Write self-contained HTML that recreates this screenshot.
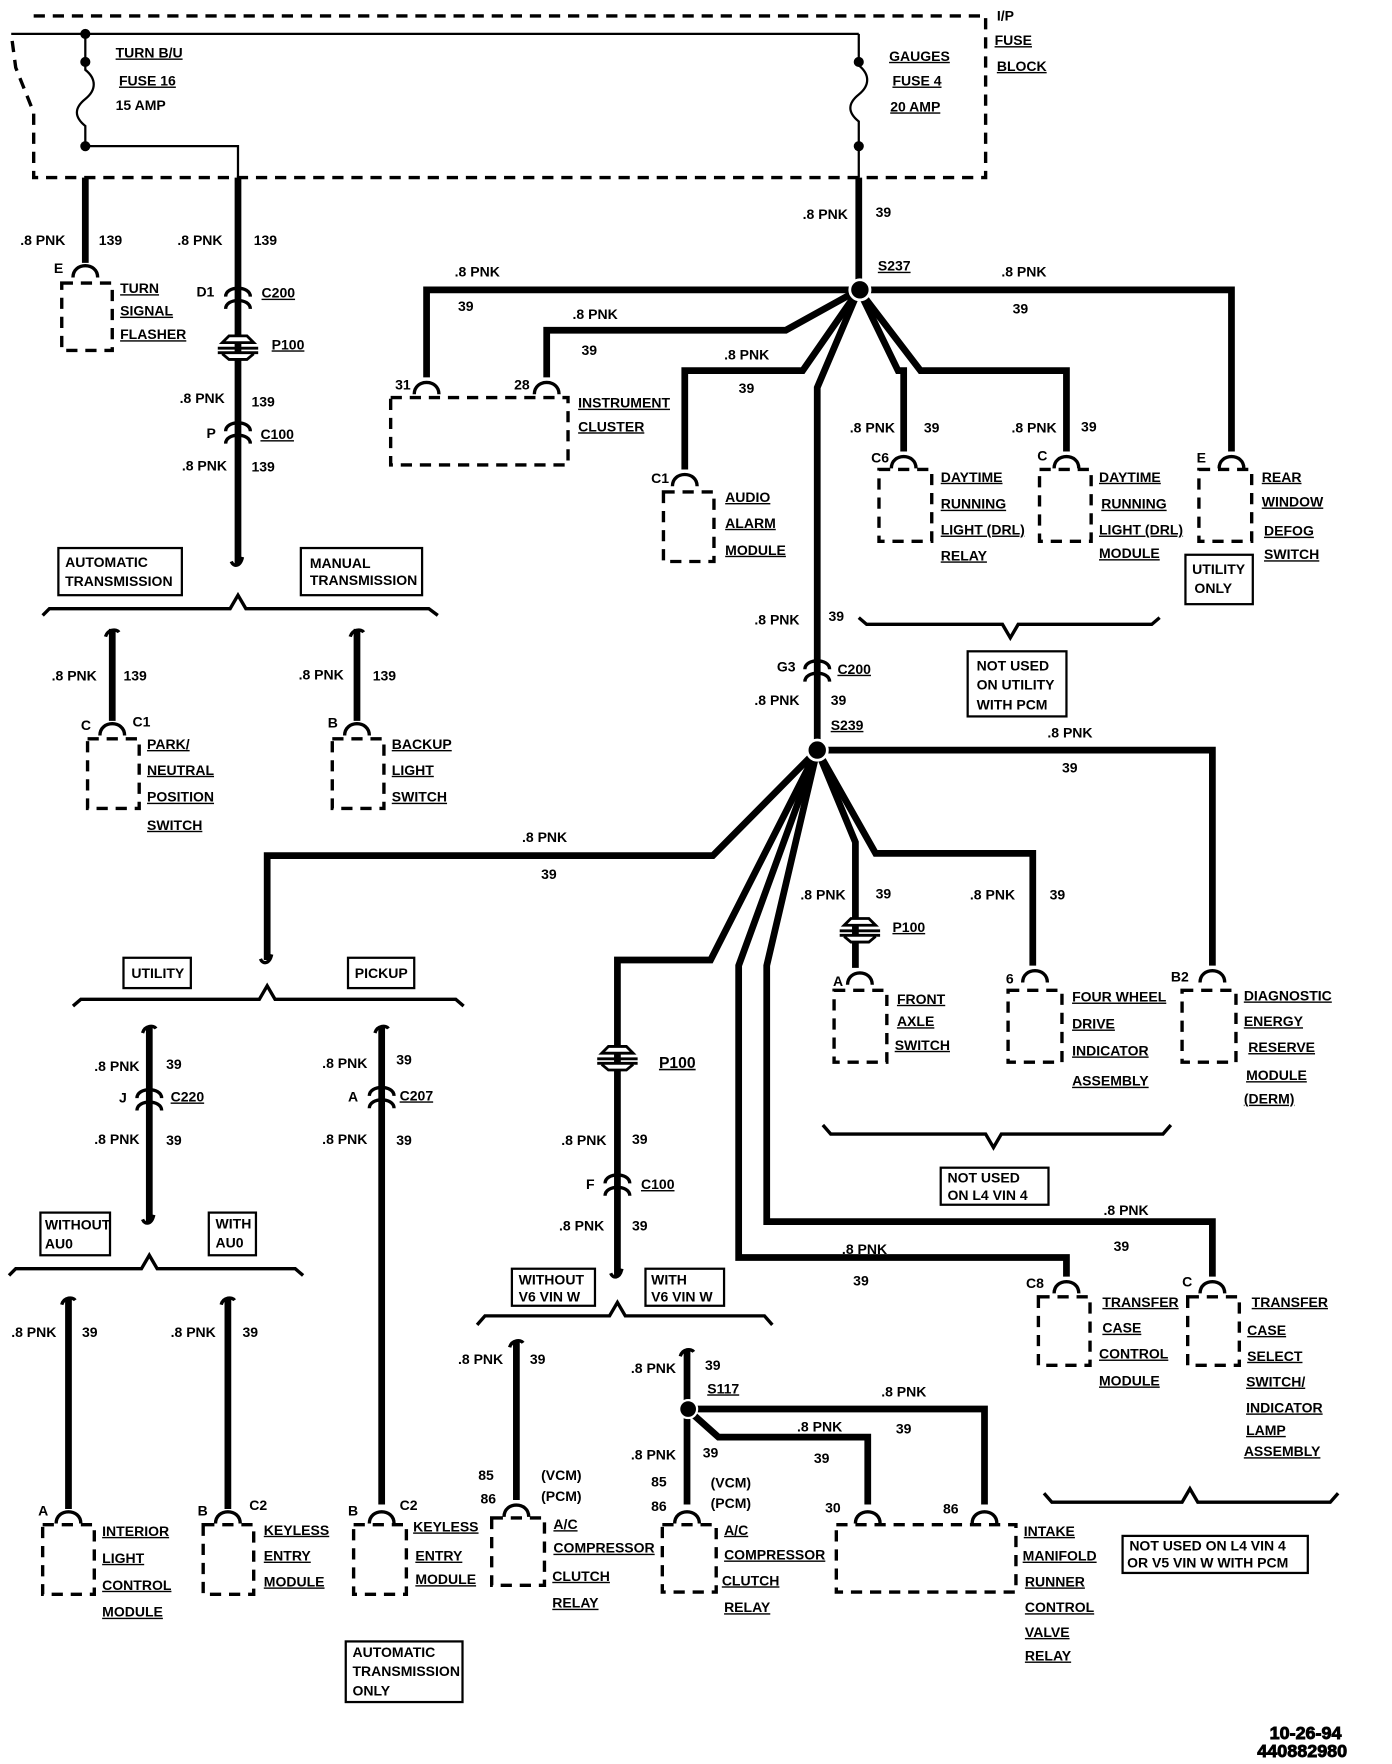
<!DOCTYPE html>
<html><head><meta charset="utf-8"><style>
html,body{margin:0;padding:0;background:#fff;}
svg{display:block}
text{font-family:"Liberation Sans",Arial,sans-serif;font-weight:bold;font-size:12.5px;fill:#000;}
.u{text-decoration:underline;}
.w{fill:none;stroke:#000;stroke-width:6;stroke-linejoin:miter;}
.t{fill:none;stroke:#000;stroke-width:2;}
.b{fill:none;stroke:#000;stroke-width:3;stroke-dasharray:10,7;}
.br{fill:none;stroke:#000;stroke-width:3;}
.bx{fill:#fff;stroke:#000;stroke-width:2;}
</style></head><body>
<svg width="1392" height="1764" viewBox="0 0 1240 1571" xmlns="http://www.w3.org/2000/svg">
<defs>
<path id="fc" d="M-11,9 C-11,-5 11,-5 11,9" fill="none" stroke="#000" stroke-width="3"/>
<g id="ic"><path d="M-11,-2 C-11,-12 11,-12 11,-2" fill="none" stroke="#000" stroke-width="3"/><path d="M-11,9 C-11,-1 11,-1 11,9" fill="none" stroke="#000" stroke-width="3"/></g>
<g id="pp"><path d="M-14,-5 L-8,-11 L8,-11 L14,-5 Z M-18,0 L18,0 M-18,4 L18,4 M-14,5 L-8,10 L8,10 L14,5" fill="#fff" stroke="#000" stroke-width="2.5"/></g>
<path id="ht" d="M-6,4 C-4,-3 4,-3 6,0" fill="none" stroke="#000" stroke-width="3"/>
<path id="hb" d="M-6,-2 C-4,3 2,3 4,-6" fill="none" stroke="#000" stroke-width="3"/>
</defs>

<!-- fuse block -->
<path d="M30,14 L878,14 L878,158 L30,158 L30,100 L14,60 L10,30" class="b"/>
<path d="M10,30 L765,30" class="t"/>
<path d="M76,30 L76,62 C86,70 86,80 76,88 C66,96 66,104 76,112 L76,130 L212,130 L212,158" class="t"/>
<path d="M765,30 L765,58 C775,66 775,76 765,84 C755,92 755,100 765,108 L765,130 L765,158" class="t"/>
<circle cx="76" cy="30" r="4.5"/><circle cx="76" cy="55" r="4.5"/><circle cx="76" cy="130" r="4.5"/>
<circle cx="765" cy="55" r="4.5"/><circle cx="765" cy="130" r="4.5"/>
<text x="103" y="51" class="u">TURN B/U</text><text x="106" y="76" class="u">FUSE 16</text><text x="103" y="98">15 AMP</text>
<text x="792" y="54" class="u">GAUGES</text><text x="795" y="76" class="u">FUSE 4</text><text x="793" y="99" class="u">20 AMP</text>
<text x="888" y="18">I/P</text><text x="886" y="40" class="u">FUSE</text><text x="888" y="63" class="u">BLOCK</text>

<!-- left column -->
<path d="M76,158 L76,234" class="w"/><use href="#fc" x="76" y="238"/>
<text x="18" y="218">.8 PNK</text><text x="88" y="218">139</text><text x="48" y="243">E</text>
<rect x="55" y="252" width="45" height="60" class="b"/>
<text x="107" y="261" class="u">TURN</text><text x="107" y="281" class="u">SIGNAL</text><text x="107" y="302" class="u">FLASHER</text>
<path d="M212,158 L212,502" class="w"/><use href="#hb" x="212" y="502"/>
<text x="158" y="218">.8 PNK</text><text x="226" y="218">139</text>
<use href="#ic" x="212" y="266"/><text x="175" y="264">D1</text><text x="233" y="265" class="u">C200</text>
<use href="#pp" x="212" y="310"/><text x="242" y="311" class="u">P100</text>
<text x="160" y="359">.8 PNK</text><text x="224" y="362">139</text>
<use href="#ic" x="212" y="386"/><text x="184" y="390">P</text><text x="232" y="391" class="u">C100</text>
<text x="162" y="419">.8 PNK</text><text x="224" y="420">139</text>
<rect x="52" y="488" width="110" height="42" class="bx"/><text x="58" y="505">AUTOMATIC</text><text x="58" y="522">TRANSMISSION</text>
<rect x="268" y="488" width="108" height="42" class="bx"/><text x="276" y="506">MANUAL</text><text x="276" y="521">TRANSMISSION</text>
<path d="M38,548 L44,542 L205,542 L212,530 L219,542 L382,542 L390,548" class="br"/>
<path d="M100,560 L100,642" class="w"/><use href="#ht" x="100" y="563"/><use href="#fc" x="100" y="646"/>
<text x="46" y="606">.8 PNK</text><text x="110" y="606">139</text><text x="72" y="650">C</text><text x="118" y="647">C1</text>
<rect x="78" y="658" width="46" height="62" class="b"/>
<text x="131" y="667" class="u">PARK/</text><text x="131" y="690" class="u">NEUTRAL</text><text x="131" y="714" class="u">POSITION</text><text x="131" y="739" class="u">SWITCH</text>
<path d="M318,560 L318,642" class="w"/><use href="#ht" x="318" y="563"/><use href="#fc" x="318" y="646"/>
<text x="266" y="605">.8 PNK</text><text x="332" y="606">139</text><text x="292" y="648">B</text>
<rect x="296" y="658" width="46" height="62" class="b"/>
<text x="349" y="667" class="u">BACKUP</text><text x="349" y="690" class="u">LIGHT</text><text x="349" y="714" class="u">SWITCH</text>

<!-- S237 -->
<path d="M765,158 L765,258" class="w"/>
<text x="715" y="195">.8 PNK</text><text x="780" y="193">39</text>
<text x="782" y="241" class="u">S237</text>
<path d="M765,258 L380,258 L380,336" class="w"/>
<path d="M765,258 L700,294 L487,294 L487,336" class="w"/>
<path d="M765,258 L715,330 L610,330 L610,418" class="w"/>
<path d="M765,258 L728,345 L728,664" class="w"/>
<path d="M765,258 L800,330 L805,330 L805,402" class="w"/>
<path d="M765,258 L820,330 L950,330 L950,402" class="w"/>
<path d="M765,258 L1097,258 L1097,402" class="w"/>
<circle cx="766" cy="258" r="9" fill="#000" stroke="#fff" stroke-width="2.5"/>
<text x="405" y="246">.8 PNK</text><text x="408" y="277">39</text>
<text x="510" y="284">.8 PNK</text><text x="518" y="316">39</text>
<text x="645" y="320">.8 PNK</text><text x="658" y="350">39</text>
<text x="892" y="246">.8 PNK</text><text x="902" y="279">39</text>
<use href="#fc" x="380" y="342"/><use href="#fc" x="487" y="342"/>
<text x="352" y="347">31</text><text x="458" y="347">28</text>
<rect x="348" y="354" width="158" height="60" class="b"/>
<text x="515" y="363" class="u">INSTRUMENT</text><text x="515" y="384" class="u">CLUSTER</text>
<use href="#fc" x="610" y="424"/><text x="580" y="430">C1</text>
<rect x="591" y="438" width="45" height="62" class="b"/>
<text x="646" y="447" class="u">AUDIO</text><text x="646" y="470" class="u">ALARM</text><text x="646" y="494" class="u">MODULE</text>
<text x="757" y="385">.8 PNK</text><text x="823" y="385">39</text>
<use href="#fc" x="805" y="408"/><text x="776" y="412">C6</text>
<rect x="783" y="418" width="47" height="64" class="b"/>
<text x="838" y="429" class="u">DAYTIME</text><text x="838" y="453" class="u">RUNNING</text><text x="838" y="476" class="u">LIGHT (DRL)</text><text x="838" y="499" class="u">RELAY</text>
<text x="901" y="385">.8 PNK</text><text x="963" y="384">39</text>
<use href="#fc" x="950" y="408"/><text x="924" y="410">C</text>
<rect x="926" y="418" width="46" height="64" class="b"/>
<text x="979" y="429" class="u">DAYTIME</text><text x="981" y="453" class="u">RUNNING</text><text x="979" y="476" class="u">LIGHT (DRL)</text><text x="979" y="497" class="u">MODULE</text>
<use href="#fc" x="1097" y="408"/><text x="1066" y="412">E</text>
<rect x="1068" y="418" width="47" height="64" class="b"/>
<text x="1124" y="429" class="u">REAR</text><text x="1124" y="451" class="u">WINDOW</text><text x="1126" y="477" class="u">DEFOG</text><text x="1126" y="498" class="u">SWITCH</text>
<rect x="1056" y="494" width="60" height="44" class="bx"/><text x="1062" y="511">UTILITY</text><text x="1064" y="528">ONLY</text>
<path d="M765,550 L772,556 L893,556 L900,568 L907,556 L1026,556 L1033,550" class="br"/>
<rect x="862" y="580" width="88" height="58" class="bx"/><text x="870" y="597">NOT USED</text><text x="870" y="614">ON UTILITY</text><text x="870" y="632">WITH PCM</text>

<!-- C200 G3 -->
<text x="672" y="556">.8 PNK</text><text x="738" y="553">39</text>
<use href="#ic" x="728" y="598"/><text x="692" y="598">G3</text><text x="746" y="600" class="u">C200</text>
<text x="672" y="628">.8 PNK</text><text x="740" y="628">39</text>
<text x="740" y="650" class="u">S239</text>

<!-- S239 -->
<path d="M728,668 L1080,668 L1080,860" class="w"/>
<path d="M728,668 L780,760 L920,760 L920,860" class="w"/>
<path d="M728,668 L762,750 L762,862" class="w"/>
<path d="M728,668 L635,762 L238,762 L238,855" class="w"/>
<use href="#hb" x="238" y="856"/>
<path d="M728,668 L633,855 L550,855 L550,1136" class="w"/><use href="#hb" x="550" y="1136"/>
<path d="M728,668 L658,860 L658,1120 L950,1120 L950,1137" class="w"/>
<path d="M728,668 L683,860 L683,1088 L1080,1088 L1080,1137" class="w"/>
<circle cx="728" cy="668" r="9" fill="#000" stroke="#fff" stroke-width="2.5"/>
<text x="933" y="657">.8 PNK</text><text x="946" y="688">39</text>
<text x="465" y="750">.8 PNK</text><text x="482" y="783">39</text>
<text x="713" y="801">.8 PNK</text><text x="780" y="800">39</text>
<use href="#pp" x="766" y="829"/><text x="795" y="830" class="u">P100</text>
<use href="#fc" x="766" y="868"/><text x="742" y="878">A</text>
<rect x="743" y="882" width="47" height="64" class="b"/>
<text x="799" y="894" class="u">FRONT</text><text x="799" y="914" class="u">AXLE</text><text x="797" y="935" class="u">SWITCH</text>
<text x="864" y="801">.8 PNK</text><text x="935" y="801">39</text>
<use href="#fc" x="922" y="866"/><text x="896" y="876">6</text>
<rect x="898" y="882" width="48" height="64" class="b"/>
<text x="955" y="892" class="u">FOUR WHEEL</text><text x="955" y="916" class="u">DRIVE</text><text x="955" y="940" class="u">INDICATOR</text><text x="955" y="967" class="u">ASSEMBLY</text>
<use href="#fc" x="1080" y="866"/><text x="1043" y="874">B2</text>
<rect x="1053" y="882" width="48" height="64" class="b"/>
<text x="1108" y="891" class="u">DIAGNOSTIC</text><text x="1108" y="914" class="u">ENERGY</text><text x="1112" y="937" class="u">RESERVE</text><text x="1110" y="962" class="u">MODULE</text><text x="1108" y="983" class="u">(DERM)</text>
<path d="M733,1002 L740,1010 L878,1010 L885,1022 L892,1010 L1036,1010 L1043,1002" class="br"/>
<rect x="838" y="1040" width="96" height="33" class="bx"/><text x="844" y="1053">NOT USED</text><text x="844" y="1069">ON  L4 VIN 4</text>

<!-- P100 main -->
<use href="#pp" x="550" y="943"/><text x="587" y="951" class="u" style="font-size:14px">P100</text>
<text x="500" y="1020">.8 PNK</text><text x="563" y="1019">39</text>
<use href="#ic" x="550" y="1056"/><text x="522" y="1059">F</text><text x="571" y="1059" class="u">C100</text>
<text x="498" y="1096">.8 PNK</text><text x="563" y="1096">39</text>
<text x="983" y="1082">.8 PNK</text><text x="992" y="1114">39</text>
<text x="750" y="1117">.8 PNK</text><text x="760" y="1145">39</text>
<use href="#fc" x="950" y="1143"/><text x="914" y="1147">C8</text>
<rect x="925" y="1155" width="46" height="61" class="b"/>
<text x="982" y="1164" class="u">TRANSFER</text><text x="982" y="1187" class="u">CASE</text><text x="979" y="1210" class="u">CONTROL</text><text x="979" y="1234" class="u">MODULE</text>
<use href="#fc" x="1080" y="1143"/><text x="1053" y="1146">C</text>
<rect x="1058" y="1155" width="46" height="61" class="b"/>
<text x="1115" y="1164" class="u">TRANSFER</text><text x="1111" y="1189" class="u">CASE</text><text x="1111" y="1212" class="u">SELECT</text><text x="1110" y="1235" class="u">SWITCH/</text><text x="1110" y="1258" class="u">INDICATOR</text><text x="1110" y="1278" class="u">LAMP</text><text x="1108" y="1297" class="u">ASSEMBLY</text>

<!-- utility / pickup -->
<rect x="110" y="853" width="60" height="27" class="bx"/><text x="117" y="871">UTILITY</text>
<rect x="310" y="853" width="59" height="27" class="bx"/><text x="316" y="871">PICKUP</text>
<path d="M65,896 L72,890 L231,890 L238,878 L245,890 L406,890 L413,896" class="br"/>
<path d="M133,914 L133,1088" class="w"/><use href="#ht" x="133" y="916"/><use href="#hb" x="133" y="1088"/>
<text x="84" y="954">.8 PNK</text><text x="148" y="952">39</text>
<use href="#ic" x="133" y="980"/><text x="106" y="982">J</text><text x="152" y="981" class="u">C220</text>
<text x="84" y="1019">.8 PNK</text><text x="148" y="1020">39</text>
<path d="M340,914 L340,1340" class="w"/><use href="#ht" x="340" y="916"/>
<text x="287" y="951">.8 PNK</text><text x="353" y="948">39</text>
<use href="#ic" x="340" y="978"/><text x="310" y="981">A</text><text x="356" y="980" class="u">C207</text>
<text x="287" y="1019">.8 PNK</text><text x="353" y="1020">39</text>
<rect x="36" y="1080" width="62" height="38" class="bx"/><text x="40" y="1095">WITHOUT</text><text x="40" y="1112">AU0</text>
<rect x="186" y="1080" width="42" height="38" class="bx"/><text x="192" y="1094">WITH</text><text x="192" y="1111">AU0</text>
<path d="M8,1136 L14,1130 L126,1130 L133,1118 L140,1130 L263,1130 L270,1136" class="br"/>
<path d="M61,1156 L61,1344" class="w"/><use href="#ht" x="61" y="1158"/>
<text x="10" y="1191">.8 PNK</text><text x="73" y="1191">39</text>
<use href="#fc" x="61" y="1348"/><text x="34" y="1350">A</text>
<rect x="38" y="1358" width="46" height="62" class="b"/>
<text x="91" y="1368" class="u">INTERIOR</text><text x="91" y="1392" class="u">LIGHT</text><text x="91" y="1416" class="u">CONTROL</text><text x="91" y="1440" class="u">MODULE</text>
<path d="M203,1156 L203,1344" class="w"/><use href="#ht" x="203" y="1158"/>
<text x="152" y="1191">.8 PNK</text><text x="216" y="1191">39</text>
<use href="#fc" x="203" y="1348"/><text x="176" y="1350">B</text><text x="222" y="1345">C2</text>
<rect x="181" y="1358" width="45" height="62" class="b"/>
<text x="235" y="1367" class="u">KEYLESS</text><text x="235" y="1390" class="u">ENTRY</text><text x="235" y="1413" class="u">MODULE</text>
<use href="#fc" x="340" y="1348"/><text x="310" y="1350">B</text><text x="356" y="1345">C2</text>
<rect x="315" y="1358" width="47" height="62" class="b"/>
<text x="368" y="1364" class="u">KEYLESS</text><text x="370" y="1390" class="u">ENTRY</text><text x="370" y="1411" class="u">MODULE</text>
<rect x="308" y="1462" width="104" height="54" class="bx"/><text x="314" y="1476">AUTOMATIC</text><text x="314" y="1493">TRANSMISSION</text><text x="314" y="1510">ONLY</text>

<!-- V6 bracket -->
<rect x="456" y="1130" width="74" height="33" class="bx"/><text x="462" y="1144">WITHOUT</text><text x="462" y="1159">V6  VIN  W</text>
<rect x="575" y="1130" width="70" height="33" class="bx"/><text x="580" y="1144">WITH</text><text x="580" y="1159">V6  VIN  W</text>
<path d="M425,1180 L432,1172 L543,1172 L550,1160 L557,1172 L681,1172 L688,1180" class="br"/>
<path d="M460,1194 L460,1336" class="w"/><use href="#ht" x="460" y="1196"/>
<text x="408" y="1215">.8 PNK</text><text x="472" y="1215">39</text>
<text x="426" y="1318">85</text><text x="428" y="1339">86</text><text x="482" y="1318">(VCM)</text><text x="482" y="1337">(PCM)</text>
<use href="#fc" x="460" y="1342"/>
<rect x="438" y="1352" width="47" height="60" class="b"/>
<text x="493" y="1362" class="u">A/C</text><text x="493" y="1383" class="u">COMPRESSOR</text><text x="492" y="1408" class="u">CLUTCH</text><text x="492" y="1432" class="u">RELAY</text>
<path d="M612,1202 L612,1340" class="w"/><use href="#ht" x="612" y="1204"/>
<path d="M612,1255 L877,1255 L877,1340" class="w"/>
<path d="M612,1255 L640,1280 L773,1280 L773,1340" class="w"/>
<circle cx="613" cy="1255" r="8" fill="#000" stroke="#fff" stroke-width="2"/>
<text x="562" y="1223">.8 PNK</text><text x="628" y="1220">39</text><text x="630" y="1241" class="u">S117</text>
<text x="785" y="1244">.8 PNK</text><text x="798" y="1277">39</text>
<text x="710" y="1275">.8 PNK</text><text x="725" y="1303">39</text>
<text x="562" y="1300">.8 PNK</text><text x="626" y="1298">39</text>
<text x="580" y="1324">85</text><text x="580" y="1346">86</text><text x="633" y="1325">(VCM)</text><text x="633" y="1343">(PCM)</text>
<use href="#fc" x="612" y="1348"/><use href="#fc" x="773" y="1348"/><use href="#fc" x="877" y="1348"/>
<text x="735" y="1347">30</text><text x="840" y="1348">86</text>
<rect x="590" y="1358" width="48" height="60" class="b"/>
<text x="645" y="1367" class="u">A/C</text><text x="645" y="1389" class="u">COMPRESSOR</text><text x="643" y="1412" class="u">CLUTCH</text><text x="645" y="1436" class="u">RELAY</text>
<rect x="745" y="1358" width="160" height="60" class="b"/>
<text x="912" y="1368" class="u">INTAKE</text><text x="911" y="1390" class="u">MANIFOLD</text><text x="913" y="1413" class="u">RUNNER</text><text x="913" y="1436" class="u">CONTROL</text><text x="913" y="1458" class="u">VALVE</text><text x="913" y="1479" class="u">RELAY</text>
<path d="M930,1330 L937,1338 L1053,1338 L1060,1326 L1067,1338 L1185,1338 L1192,1330" class="br"/>
<rect x="1000" y="1368" width="165" height="33" class="bx"/><text x="1006" y="1381">NOT USED  ON  L4 VIN 4</text><text x="1004" y="1396">OR  V5 VIN W WITH PCM</text>

<text x="1131" y="1549" style="font-size:16px;stroke:#000;stroke-width:0.8">10-26-94</text>
<text x="1120" y="1565" style="font-size:16px;stroke:#000;stroke-width:0.8">440882980</text>
</svg>
</body></html>
